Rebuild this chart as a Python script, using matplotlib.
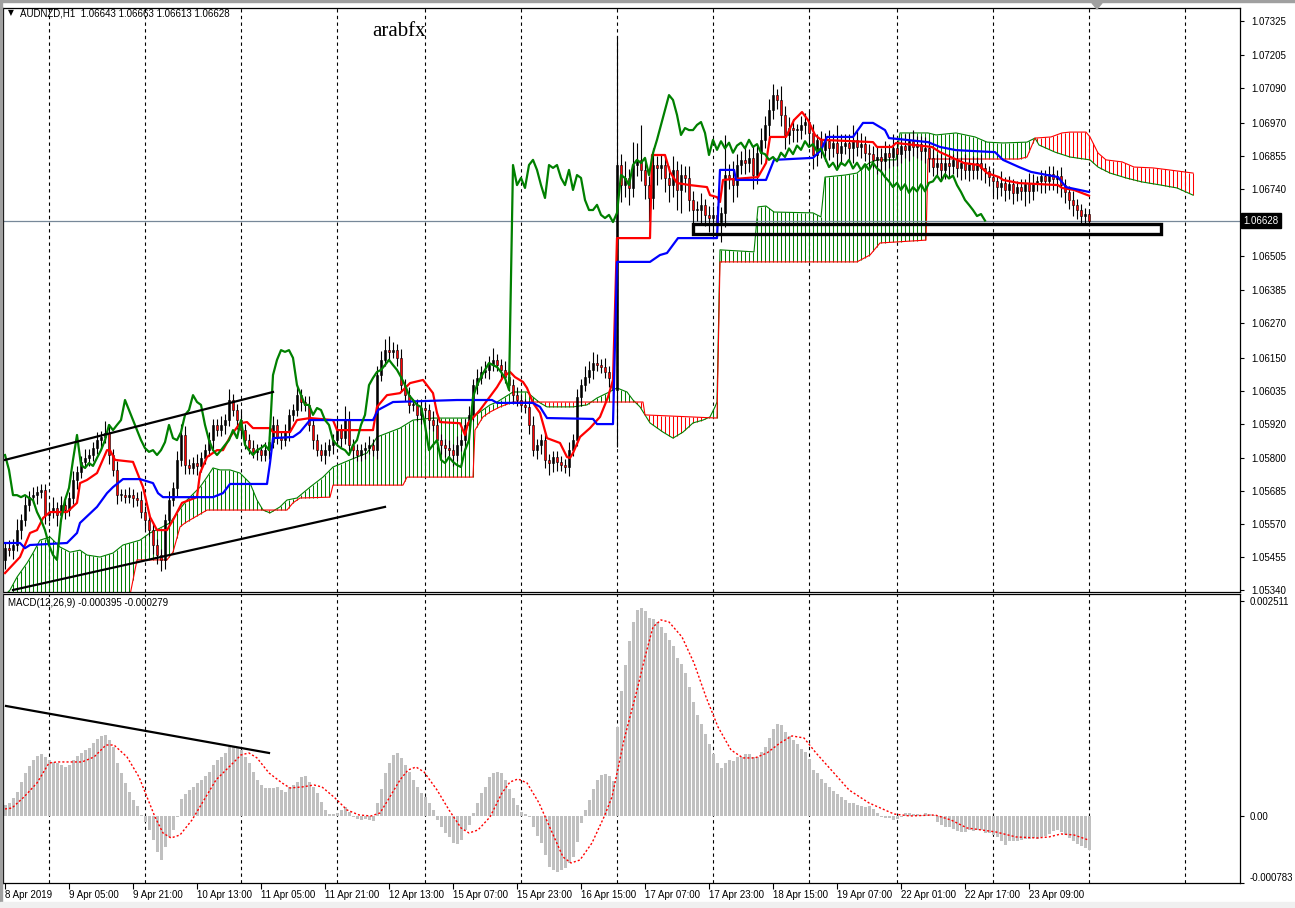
import numpy as np
import matplotlib
matplotlib.use("Agg")
import matplotlib.pyplot as plt
from matplotlib.patches import Rectangle, Polygon

plt.rcParams["font.family"] = ["Liberation Sans", "DejaVu Sans"]
plt.rcParams["font.size"] = 7

# prices are kept as pips above 1.0500, MACD values in pips (x 1e-4)
BASE = 1.05
PIP = 0.0001

first_open_pips = 44.4
close_pips = [
    48.5, 47.8, 49.6, 54.8, 58.3, 63.6, 66.3, 67.0, 68.1, 68.8,
    60.1, 61.1, 62.5, 60.1, 63.6, 61.8, 66.0, 72.3, 75.1, 78.6,
    80.0, 81.0, 83.4, 86.2, 87.3, 88.7, 81.0, 75.8, 67.0, 67.0,
    66.3, 67.0, 66.0, 65.3, 61.1, 58.3, 54.8, 49.6, 46.1, 44.4,
    58.3, 65.3, 69.5, 79.3, 88.0, 77.5, 76.5, 78.2, 77.2, 80.0,
    82.7, 86.2, 91.5, 89.7, 91.5, 93.2, 100.2, 96.7, 93.2, 89.7,
    86.2, 83.4, 82.1, 82.7, 81.0, 82.7, 85.5, 91.5, 86.9, 86.2,
    89.0, 95.0, 96.7, 101.9, 99.5, 98.5, 91.5, 86.2, 82.7, 81.0,
    82.7, 84.5, 86.2, 89.7, 86.9, 93.2, 84.5, 82.7, 81.0, 82.7,
    83.4, 84.5, 82.7, 108.9, 114.2, 117.6, 117.0, 117.6, 114.9, 105.4,
    101.9, 98.5, 98.5, 95.0, 97.4, 96.7, 93.2, 91.5, 86.2, 84.5,
    83.4, 82.7, 81.0, 84.5, 86.2, 91.5, 95.0, 105.4, 107.9, 110.0,
    110.7, 112.4, 114.2, 112.4, 110.7, 108.2, 105.4, 101.9, 100.2, 98.5,
    97.8, 91.5, 82.7, 84.5, 86.2, 79.3, 78.2, 80.3, 78.6, 77.5,
    76.8, 82.7, 86.2, 101.2, 105.4, 108.2, 110.7, 113.1, 112.4, 111.7,
    110.0, 107.9, 103.7, 182.2, 175.2, 177.7, 174.2, 182.2, 184.0, 180.5,
    175.2, 170.7, 182.2, 181.2, 182.2, 177.7, 175.2, 180.5, 173.5, 178.7,
    177.7, 170.0, 166.5, 166.5, 168.3, 164.8, 163.7, 164.8, 162.3, 165.5,
    178.7, 177.7, 175.2, 182.2, 184.0, 182.9, 184.7, 178.7, 186.4, 191.0,
    196.2, 201.4, 206.6, 204.9, 199.7, 192.7, 195.1, 194.4, 194.4, 196.2,
    197.2, 193.4, 185.7, 191.0, 187.5, 190.5, 188.0, 190.0, 186.5, 189.0,
    190.0, 188.0, 191.0, 188.5, 189.5, 186.5, 186.0, 184.0, 185.0, 183.5,
    186.5, 185.0, 188.0, 186.0, 189.0, 187.5, 190.5, 188.5, 189.5, 187.0,
    188.0, 184.7, 181.5, 183.0, 180.5, 183.0, 182.0, 184.0, 181.0, 183.0,
    180.5, 182.5, 180.5, 183.0, 181.0, 180.0, 178.0, 176.5, 174.5, 176.0,
    173.5, 175.5, 172.5, 174.5, 173.0, 175.5, 173.0, 176.0, 176.5, 178.5,
    176.5, 179.0, 177.5, 178.5, 175.2, 172.8, 170.0, 168.3, 166.5, 164.4,
    165.1, 162.8,
]
upper_wick = [
    2, 3, 2, 4, 2, 3, 2, 3, 2, 2,  2, 3, 4, 2, 3, 2, 2, 3, 2, 2,
    3, 2, 2, 3, 2, 4, 3, 2, 3, 2,  2, 3, 2, 2, 3, 2, 2, 3, 2, 2,
    2, 3, 2, 3, 4, 3, 2, 2, 3, 2,  2, 3, 2, 2, 3, 2, 4, 2, 2, 3,
    2, 2, 3, 2, 2, 3, 2, 3, 2, 2,  3, 2, 2, 4, 2, 2, 3, 2, 2, 2,
    3, 2, 2, 4, 2, 5, 3, 2, 2, 2,  2, 3, 2, 3, 3, 4, 5, 3, 2, 3,
    2, 3, 2, 2, 3, 2, 2, 3, 2, 2,  2, 3, 2, 3, 2, 2, 3, 2, 3, 2,
    3, 3, 4, 2, 2, 3, 2, 2, 3, 2,  2, 2, 3, 2, 2, 3, 2, 2, 2, 2,
    2, 3, 2, 3, 2, 4, 3, 4, 3, 2,  3, 2, 2, 45, 4, 6, 3, 8, 6, 12,
    4, 3, 6, 3, 4, 3, 4, 5, 3, 4,  3, 4, 3, 3, 4, 2, 3, 3, 3, 2,
    14, 4, 6, 4, 3, 4, 3, 4, 3, 4,  3, 4, 4, 2, 5, 3, 4, 3, 2, 3,
    3, 4, 3, 2, 3, 3, 4, 3, 6, 4,  3, 3, 5, 3, 4, 3, 3, 3, 4, 3,
    4, 3, 5, 3, 3, 4, 3, 4, 3, 3,  4, 3, 3, 3, 3, 2, 3, 2, 3, 2,
    3, 2, 3, 2, 3, 2, 2, 3, 2, 4,  2, 3, 2, 2, 3, 2, 4, 3, 2, 2,
    2, 3, 3, 2, 3, 2, 2, 3, 2, 2,  2, 1,
]
lower_wick = [
    3, 2, 3, 2, 3, 2, 2, 2, 3, 2,  3, 2, 2, 4, 2, 3, 2, 2, 3, 2,
    2, 3, 2, 2, 3, 2, 3, 2, 3, 2,  2, 2, 3, 2, 2, 3, 2, 3, 3, 4,
    3, 2, 2, 3, 2, 3, 2, 2, 3, 2,  2, 2, 3, 2, 2, 3, 2, 2, 3, 2,
    3, 2, 2, 3, 2, 2, 3, 2, 2, 3,  2, 3, 2, 2, 3, 2, 2, 3, 2, 2,
    3, 2, 3, 2, 3, 2, 2, 3, 2, 2,  3, 2, 2, 3, 2, 2, 3, 2, 3, 2,
    2, 3, 2, 2, 3, 2, 3, 2, 3, 3,  3, 2, 4, 2, 2, 3, 2, 2, 3, 2,
    2, 3, 2, 2, 3, 2, 2, 3, 2, 2,  2, 3, 2, 3, 3, 3, 4, 3, 3, 2,
    2, 3, 2, 2, 3, 2, 2, 3, 2, 2,  2, 3, 2, 20, 6, 4, 6, 3, 4, 4,
    5, 8, 4, 6, 4, 5, 6, 4, 7, 8,  5, 4, 6, 4, 5, 4, 5, 6, 4, 7,
    5, 4, 6, 4, 3, 4, 3, 5, 3, 4,  3, 4, 3, 3, 4, 5, 3, 4, 4, 3,
    3, 4, 5, 4, 3, 4, 4, 3, 5, 4,  3, 4, 5, 3, 4, 3, 4, 3, 5, 4,
    3, 4, 3, 4, 3, 3, 4, 3, 4, 3,  4, 5, 3, 3, 4, 3, 4, 3, 3, 4,
    3, 4, 3, 3, 4, 4, 3, 5, 4, 3,  4, 3, 4, 3, 3, 5, 4, 3, 3, 4,
    4, 3, 4, 5, 4, 4, 3, 4, 3, 3,  3, 2,
]

# ichimoku lines as (bar, pips) vertices
tenkan_pts = [
    (0, 39.8), (3.75, 45.4), (6.25, 53.8), (8, 54.8), (9.5, 59.0), (11.25, 61.1), (15.5, 61.1),
    (18, 64.3), (18.75, 71.2), (20.5, 72.3), (23, 74.7), (25.5, 82.7), (26.25, 82.7), (27.5, 79.3),
    (32, 78.6), (34.5, 69.8), (36.25, 59.4), (38, 54.8), (40.5, 54.8), (42, 58.3), (44.25, 64.3),
    (48, 66.3), (48.75, 74.7), (50.5, 80.3), (53, 82.7), (54.5, 82.7), (56.25, 87.3), (58.75, 92.1),
    (60.5, 92.5), (62, 90.4), (66.25, 90.4), (67, 89.0), (71.25, 89.0), (73, 93.2), (76.25, 93.9),
    (82, 93.2), (83, 89.7), (92, 89.7), (93, 97.8), (95.5, 101.9), (98.75, 102.6), (101.25, 106.1),
    (104.5, 107.2), (107, 102.6), (108, 95.7), (108.75, 92.5), (113.75, 92.1), (115, 88.0),
    (115.75, 92.1), (118.75, 96.7), (123, 104.7), (124.5, 108.2), (126.25, 110.0), (127.5, 108.2),
    (129.5, 106.5), (130.5, 104.4), (132, 99.2), (133.75, 95.7), (135.5, 86.9), (138.75, 85.2),
    (140.5, 80.3), (141.25, 80.0), (142, 81.7), (143.75, 87.3), (146.25, 90.4), (148.75, 94.3),
    (150.75, 101.2), (152, 107.2), (153, 156.7), (161.25, 156.7), (161.75, 185.7), (165, 185.7),
    (166.25, 179.8), (168, 175.9), (171.25, 175.2), (175.5, 174.5), (176.25, 171.7), (178, 171.0),
    (178.75, 169.3), (179.5, 177.0), (182, 177.3), (188.25, 178.0), (190.25, 182.9), (191.25, 192.0),
    (195.25, 192.0), (197.25, 197.9), (199.25, 200.7), (200.75, 197.9), (202.5, 192.7), (204, 191.0),
    (217, 190.2), (218, 188.5), (221.75, 188.5), (222.75, 189.9), (231.75, 188.5), (233.75, 186.7),
    (239.75, 182.9), (243.5, 182.2), (245.5, 179.4), (248.5, 178.0), (249.5, 177.0), (253.5, 175.9),
    (263.25, 175.2), (264.25, 174.2), (267.25, 173.5), (271, 171.5),
]
kijun_pts = [
    (0, 50.3), (3.75, 50.3), (5, 48.5), (6.25, 49.6), (15.5, 50.3), (18, 53.8), (18.75, 57.3),
    (23, 62.9), (25.5, 67.7), (27, 69.8), (29.5, 72.6), (33.75, 72.6), (37, 71.2), (38.25, 67.7),
    (39.5, 66.3), (52, 66.3), (54.5, 67.7), (56.25, 70.9), (65.5, 70.9), (66.25, 78.2), (67, 86.9),
    (72, 87.3), (73.75, 89.0), (76.25, 93.2), (92, 93.2), (93.25, 96.7), (97, 99.5), (113, 100.2),
    (121.75, 100.2), (123, 99.2), (132, 99.2), (133.75, 97.8), (135.5, 93.9), (147, 93.6),
    (148, 91.8), (152, 91.8), (153, 148.4), (161.25, 148.4), (163.75, 150.8), (165.5, 151.5),
    (168.25, 156.7), (178, 156.7), (178.75, 180.5), (182.25, 180.5), (182.75, 177.0), (190.25, 177.0),
    (192.25, 184.0), (202, 184.7), (204, 187.4), (205.5, 192.0), (212, 192.0), (214.5, 196.9),
    (217, 196.9), (220, 194.4), (221, 191.6), (230.75, 190.2), (233.75, 188.5), (237.75, 187.4),
    (247.5, 186.7), (249.5, 184.0), (253.5, 181.5), (256.5, 179.8), (263.25, 178.0), (265.25, 174.5),
    (271, 172.8),
]
span_a_pts = [
    (0, 32.1), (1.25, 33.9), (3, 38.4), (5.5, 43.3), (7, 46.8), (8.75, 51.3), (11.25, 52.4),
    (13.75, 48.9), (16.25, 47.1), (18.75, 47.8), (20.5, 46.1), (23.75, 45.4), (27, 46.8), (29.5, 49.6),
    (33.75, 51.3), (36.25, 53.8), (38.75, 55.5), (41.25, 57.3), (43, 60.8), (45.5, 65.3), (48.75, 69.8),
    (50.5, 73.3), (52, 76.5), (53.75, 75.8), (56.25, 75.8), (58.75, 74.7), (61.25, 71.2), (63, 65.3),
    (64.5, 61.8), (66.25, 60.8), (68.75, 62.9), (70.5, 65.3), (73, 66.0), (76.25, 69.8), (79.5, 73.3),
    (82, 76.8), (86.25, 79.3), (90.5, 81.7), (93, 87.3), (98.75, 90.4), (102, 93.2), (107, 93.9),
    (115.5, 93.9), (117, 94.3), (118.75, 96.0), (121.25, 98.5), (123, 99.5), (127, 103.0),
    (130.5, 103.0), (132, 101.2), (133.75, 99.2), (135.5, 97.8), (142, 97.8), (145.5, 98.5),
    (148, 100.9), (150.5, 102.6), (153, 104.4), (155.5, 103.0), (157, 100.2), (158.75, 97.8),
    (161.25, 92.2), (164.5, 89.0), (167, 86.9), (169.5, 89.0), (172, 92.2), (174.5, 93.2),
    (176.25, 94.3), (177.5, 97.8), (178, 99.5), (178.75, 152.6), (187.25, 151.9), (188.25, 167.6),
    (190.25, 167.9), (192.25, 165.8), (202, 165.5), (204, 164.1), (205, 178.0), (210, 178.7),
    (213, 179.4), (216, 182.9), (218, 184.0), (222.75, 184.0), (223.75, 193.4), (230.75, 193.4),
    (232.75, 192.7), (237.75, 193.4), (242.5, 192.0), (245.5, 190.2), (249.5, 189.9), (255.5, 190.2),
    (257.5, 191.6), (258.5, 189.2), (262.5, 186.7), (266.25, 185.0), (271.25, 184.0), (273.25, 181.5),
    (276.25, 179.4), (280.25, 177.7), (284.25, 176.3), (289, 175.2), (293, 174.2), (297, 171.7),
]
span_b_pts = [
    (0, 30.0), (31.25, 32.1), (33, 44.4), (40.5, 44.4), (42, 47.1), (43.75, 55.9), (45, 57.3),
    (50.5, 61.8), (70.5, 61.8), (72, 64.3), (73.75, 66.0), (81.25, 66.3), (82, 70.5), (99.5, 70.5),
    (100.5, 73.3), (117, 73.3), (117.5, 89.7), (119.5, 94.3), (121.25, 96.0), (123.75, 97.8),
    (127, 99.5), (159.5, 99.5), (160, 95.0), (178, 93.9), (178.75, 148.4), (213, 148.4),
    (216.25, 150.8), (218.75, 155.0), (230.25, 156.0), (230.75, 184.3), (253.5, 184.3),
    (255.5, 185.0), (257.5, 191.6), (261.5, 192.0), (264.25, 193.4), (266.25, 193.7),
    (270.25, 193.7), (271.25, 192.0), (273.25, 186.4), (275.25, 184.0), (279.25, 183.3),
    (282.25, 181.5), (287, 181.2), (291, 180.5), (297, 179.4),
]
chikou_shift = 26

macd_hist_pips = [
    1.3, 1.5, 2.1, 2.8, 4.0, 5.0, 5.8, 6.5, 7.0, 7.2,
    6.9, 6.5, 6.3, 6.2, 6.0, 5.7, 6.0, 6.5, 7.0, 7.4,
    7.7, 7.9, 8.5, 9.0, 9.3, 9.5, 8.9, 8.1, 6.2, 5.0,
    3.9, 2.8, 1.9, 1.2, 0.1, -0.7, -1.6, -2.8, -4.2, -5.1,
    -3.6, -2.5, -1.6, -0.1, 2.0, 2.6, 3.0, 3.4, 3.9, 4.2,
    4.7, 5.1, 6.0, 6.5, 6.9, 7.4, 8.1, 8.2, 8.1, 7.7,
    6.9, 6.2, 5.1, 4.2, 3.6, 3.3, 3.3, 3.3, 3.4, 3.0,
    2.8, 3.4, 3.6, 4.0, 4.6, 4.7, 4.0, 3.4, 2.7, 1.6,
    0.7, 0.2, 0.2, 0.4, 0.7, 1.1, 0.5, -0.1, -0.4, -0.5,
    -0.4, -0.5, -0.6, 1.5, 3.2, 5.0, 6.2, 7.1, 7.4, 6.8,
    6.0, 5.1, 4.2, 3.4, 2.7, 2.2, 1.5, 0.7, -0.5, -1.3,
    -2.0, -2.5, -3.2, -3.3, -2.8, -1.6, -1.1, 0.4, 1.5, 2.7,
    3.4, 4.6, 5.0, 5.1, 5.0, 4.2, 3.2, 2.1, 1.3, 0.5,
    0.2, -0.1, -1.3, -2.3, -3.2, -4.6, -6.0, -6.3, -6.5, -6.3,
    -6.1, -5.5, -4.8, -3.0, -0.8, 0.7, 1.9, 3.2, 4.2, 4.8,
    4.9, 4.7, 4.1, 10.4, 14.6, 17.6, 20.4, 22.7, 24.1, 24.3,
    23.9, 23.1, 23.0, 22.7, 22.1, 21.4, 20.6, 19.9, 18.5, 17.8,
    16.7, 15.1, 13.3, 11.8, 10.7, 9.6, 8.4, 7.2, 6.2, 5.6,
    6.2, 6.5, 6.4, 6.9, 6.9, 7.2, 7.2, 6.9, 6.9, 7.5,
    8.1, 9.1, 10.2, 10.7, 10.6, 9.8, 9.3, 8.9, 8.4, 7.8,
    7.5, 6.7, 5.4, 5.0, 4.3, 3.9, 3.4, 2.9, 2.6, 2.2,
    1.9, 1.5, 1.5, 1.3, 1.2, 1.1, 1.2, 0.8, 0.4, -0.1,
    -0.2, -0.2, -0.5, -0.4, -0.1, 0.4, 0.4, 0.2, 0.2, 0.1,
    0.4, 0.2, 0.1, -0.7, -1.1, -1.3, -1.3, -1.5, -1.8, -1.9,
    -1.9, -1.6, -1.8, -1.6, -1.6, -2.0, -2.0, -2.2, -2.5, -2.9,
    -3.4, -2.9, -2.9, -2.9, -2.8, -2.7, -2.7, -2.6, -2.7, -2.5,
    -2.3, -2.1, -1.8, -1.6, -1.9, -2.2, -2.6, -2.9, -3.3, -3.5,
    -3.7, -4.0,
]
signal_pts = [
    (0, 0.82), (1.75, 0.93), (4.75, 2.22), (8, 3.86), (11, 6.19), (13, 6.31), (19.25, 6.31),
    (22.25, 6.89), (25.25, 8.29), (27.25, 8.29), (30.5, 6.89), (33.5, 4.56), (35.5, 2.22),
    (37.5, -0.12), (39.5, -1.99), (41.5, -2.57), (43.75, -2.22), (46.75, -0.47), (49.75, 1.87),
    (52.75, 4.21), (56, 5.72), (59, 7.13), (61, 7.36), (63, 6.78), (66, 5.02), (69.25, 3.86),
    (71.25, 3.27), (74.25, 3.39), (77.25, 3.62), (79.25, 3.39), (82.5, 2.10), (85.5, 0.70),
    (88.5, 0.12), (91.5, 0.0), (93.75, 0.35), (95.75, 1.87), (98.75, 4.21), (100.75, 5.37),
    (102.75, 5.72), (104.75, 5.14), (108, 3.04), (111, 0.70), (114, -1.40), (116, -1.99),
    (118.25, -1.64), (121.25, -0.12), (124.25, 2.69), (126.25, 3.97), (128.25, 4.32), (130.5, 3.86),
    (133.5, 1.52), (136.5, -1.64), (139.5, -4.79), (141.5, -5.49), (143.75, -5.14), (146.75, -3.15),
    (149.75, -0.12), (151.75, 2.22), (154.75, 8.88), (158, 14.72), (160, 18.57), (162, 22.08),
    (164, 22.90), (166, 22.66), (169.25, 20.91), (172.25, 17.87), (175.25, 13.90), (178.25, 10.40),
    (181.5, 7.71), (184.5, 6.78), (187.5, 6.78), (190.5, 7.36), (193.75, 8.53), (196.75, 9.35),
    (199.75, 9.11), (202.75, 7.36), (207, 5.14), (211, 3.04), (216, 1.52), (222.25, 0.23),
    (226.25, 0.0), (232.5, 0.12), (236.5, -0.47), (240.5, -1.40), (247.75, -1.87), (252.75, -2.45),
    (258, -2.57), (261, -2.45), (264, -2.10), (267.25, -2.22), (270.75, -2.79),
]

# hand drawn objects (bar, pips)
channel_top = [(0, 79.3), (67, 103.0)]
channel_bottom = [(2, 33.9), (95, 62.9)]
macd_trend = [(0.25, 12.85), (66, 7.36)]
zone_box = (172, 289, 158.1, 161.6)

last_price = 1.06628
price_ticks = [1.07325, 1.07205, 1.07090, 1.06970, 1.06855, 1.06740, 1.06505, 1.06385,
               1.06270, 1.06150, 1.06035, 1.05920, 1.05800, 1.05685, 1.05570, 1.05455, 1.05340]
macd_ticks = [0.002511, 0.0, -0.000783]
macd_tick_labels = ["0.002511", "0.00", "-0.000783"]
label_bars = list(range(0, 257, 16))
time_labels = ["8 Apr 2019", "9 Apr 05:00", "9 Apr 21:00", "10 Apr 13:00", "11 Apr 05:00",
               "11 Apr 21:00", "12 Apr 13:00", "15 Apr 07:00", "15 Apr 23:00", "16 Apr 15:00",
               "17 Apr 07:00", "17 Apr 23:00", "18 Apr 15:00", "19 Apr 07:00", "22 Apr 01:00",
               "22 Apr 17:00", "23 Apr 09:00"]
day_bars = [11, 35, 59, 83, 105, 129, 153, 177, 201, 223, 247, 271, 295]


def px(p):
    return BASE + np.asarray(p, dtype=float) * PIP


W, H = 1295, 908
fig = plt.figure(figsize=(W / 100, H / 100), dpi=100)
fig.patch.set_facecolor("white")
ax = fig.add_axes([3 / W, 1 - 592 / H, 1237 / W, 584 / H])
axm = fig.add_axes([3 / W, 1 - 883 / H, 1237 / W, 289 / H])

for a in (ax, axm):
    a.set_xlim(-0.5, 308.75)
    for s in a.spines.values():
        s.set_linewidth(0.9)
        s.set_color("black")
    for d in day_bars:
        a.axvline(d, color="black", lw=0.8, ls=(0, (3, 3)), zorder=0.5)

# ---- cloud hatch
kumo_bars = np.arange(0, 298)
sa_x, sa_y = zip(*span_a_pts)
sb_x, sb_y = zip(*span_b_pts)
a_val = np.interp(kumo_bars, sa_x, sa_y)
b_val = np.interp(kumo_bars, sb_x, sb_y)
up = a_val >= b_val
ax.vlines(kumo_bars[up], px(b_val[up]), px(a_val[up]), color="#008000", lw=0.75, zorder=1)
ax.vlines(kumo_bars[~up], px(a_val[~up]), px(b_val[~up]), color="#FF0000", lw=0.75, zorder=1)
ax.plot(sa_x, px(sa_y), color="#008000", lw=0.8, zorder=2)
ax.plot(sb_x, px(sb_y), color="#FF0000", lw=0.8, zorder=2)

# ---- candles
close = np.array(close_pips)
opn = np.r_[first_open_pips, close[:-1]]
hi = np.maximum(opn, close) + np.array(upper_wick)
lo = np.minimum(opn, close) - np.array(lower_wick)
bars = np.arange(len(close))
ax.vlines(bars, px(lo), px(hi), color="black", lw=0.8, zorder=3)
body_h = np.maximum(np.abs(close - opn), 0.25) * PIP
body_colors = ["black" if c >= o else "#FF0000" for o, c in zip(opn, close)]
ax.bar(bars, body_h, bottom=px(np.minimum(opn, close)), width=0.62,
       color=body_colors, edgecolor="black", linewidth=0.4, zorder=3.5)

# ---- ichimoku lines
tx, ty = zip(*tenkan_pts)
kx, ky = zip(*kijun_pts)
ax.plot(tx, px(ty), color="#FF0000", lw=1.6, zorder=4)
ax.plot(kx, px(ky), color="#0000FF", lw=1.6, zorder=4)
ax.plot(bars[:-chikou_shift], px(close[chikou_shift:]), color="#008000", lw=1.6, zorder=4)

ax.axhline(last_price, color="#778899", lw=0.9, zorder=2.5)

# ---- drawings
for (x0, y0), (x1, y1) in (channel_top, channel_bottom):
    ax.plot([x0, x1], px([y0, y1]), color="black", lw=1.6, zorder=5)
ax.add_patch(Rectangle((zone_box[0], px(zone_box[2])), zone_box[1] - zone_box[0],
                       (zone_box[3] - zone_box[2]) * PIP, fill=False,
                       edgecolor="black", lw=2.4, zorder=5))

ax.set_ylim(1.05332, 1.07370)
ax.set_xticks([])
ax.yaxis.tick_right()
ax.set_yticks(price_ticks)
ax.set_yticklabels([f"{v:.5f}" for v in price_ticks])
ax.tick_params(axis="y", direction="out", length=3, labelsize=7, pad=5)
ax.text(1.0025, last_price, f"{last_price:.5f}", transform=ax.get_yaxis_transform(),
        color="white", fontsize=7, va="center", ha="left",
        bbox=dict(boxstyle="square,pad=0.25", fc="black", ec="black"))

# ---- MACD
hist = np.array(macd_hist_pips) * PIP
axm.bar(np.arange(len(hist)), hist, width=0.75, color="#C0C0C0", zorder=2)
sx, sy = zip(*signal_pts)
axm.plot(sx, np.array(sy) * PIP, color="#FF0000", lw=1.0, ls=(0, (1.5, 1.5)), zorder=3)
(mx0, my0), (mx1, my1) = macd_trend
axm.plot([mx0, mx1], [my0 * PIP, my1 * PIP], color="black", lw=1.6, zorder=4)
axm.set_ylim(-0.000783, 0.002593)
axm.yaxis.tick_right()
axm.set_yticks(macd_ticks)
axm.set_yticklabels(macd_tick_labels)
axm.tick_params(axis="y", direction="out", length=3, labelsize=7, pad=4)
axm.get_yticklabels()[-1].set_va("bottom")
axm.set_xticks(label_bars)
axm.set_xticklabels(time_labels, ha="left")
axm.tick_params(axis="x", direction="out", length=4, labelsize=7, pad=1)

# ---- texts and window decoration
fig.text(8 / W, 1 - 13 / H, "\u25bc", fontsize=5.5, va="center", family="DejaVu Sans")
fig.text(20 / W, 1 - 13 / H, "AUDNZD,H1  1.06643 1.06663 1.06613 1.06628", fontsize=7, va="center")
fig.text(372 / W, 1 - 32 / H, "arabfx", fontsize=15, va="center", family="Liberation Serif")
fig.text(8 / W, 1 - 603 / H, "MACD(12,26,9) -0.000395 -0.000279", fontsize=7, va="center")
fig.add_artist(Rectangle((0, 0), 2 / W, 1, transform=fig.transFigure, color="#A0A0A0"))
fig.add_artist(Rectangle((0, 1 - 2 / H), 1, 2 / H, transform=fig.transFigure, color="#A0A0A0"))
fig.add_artist(Rectangle((0, 0), 1, 6 / H, transform=fig.transFigure, color="#F0F0F0"))
fig.add_artist(Polygon([[1092 / W, 1 - 3 / H], [1102 / W, 1 - 3 / H], [1097 / W, 1 - 9 / H]],
                       closed=True, transform=fig.transFigure, color="#A0A0A0"))

fig.savefig("out.png", dpi=100)
